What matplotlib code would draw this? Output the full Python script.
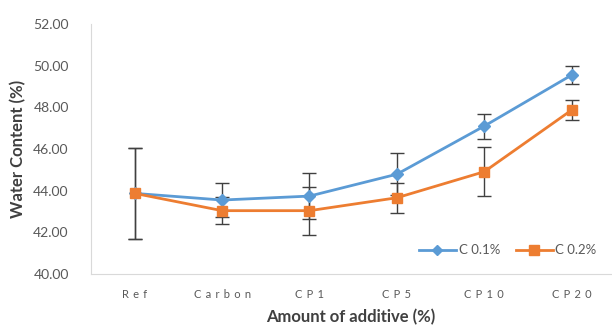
import matplotlib.pyplot as plt
from matplotlib.lines import Line2D

categories = ["Ref", "Carbon", "CP1", "CP5", "CP10", "CP20"]
c01 = [43.87, 43.55, 43.74, 44.79, 47.10, 49.55]
c01_err = [2.2, 0.83, 1.1, 1.0, 0.6, 0.45]
c02 = [43.87, 43.04, 43.04, 43.66, 44.91, 47.87]
c02_err = [2.2, 0.65, 1.15, 0.73, 1.18, 0.5]

plt.rcParams['font.family'] = ['Lato', 'DejaVu Sans']

blue = '#5B9BD5'
orange = '#ED7D31'

fig = plt.figure(figsize=(6.12, 3.29), dpi=100)
ax = fig.add_axes([91/612, 55/329, 520/612, 250/329])

x = list(range(len(categories)))
ax.errorbar(x, c01, yerr=c01_err, color=blue, lw=2, marker='D', ms=6,
            ecolor='#404040', elinewidth=1, capsize=5, capthick=1, zorder=3)
ax.errorbar(x, c02, yerr=c02_err, color=orange, lw=2, marker='s', ms=7,
            ecolor='#404040', elinewidth=1, capsize=5, capthick=1, zorder=3)

ax.set_ylim(40, 52)
ax.set_yticks(range(40, 53, 2))
ax.set_yticklabels([f"{v:.2f}" for v in range(40, 53, 2)])
ax.set_xlim(-0.5, 5.45)
ax.set_xticks(x)
# the original uses wide letter spacing on the category labels
ax.set_xticklabels([" \u2009".join(c) for c in categories])

for s in ['top', 'right']:
    ax.spines[s].set_visible(False)
for s in ['left', 'bottom']:
    ax.spines[s].set_color('#D9D9D9')
ax.tick_params(axis='y', length=0, pad=16, labelsize=10, labelcolor='#595959')
ax.tick_params(axis='x', length=0, pad=11, labelsize=8, labelcolor='#595959')

ax.set_ylabel('Water Content (%)', fontsize=12, fontweight='bold', color='#404040', labelpad=5)
ax.set_xlabel('Amount of additive (%)', fontsize=12, fontweight='bold', color='#404040', labelpad=6)

handles = [Line2D([], [], color=blue, lw=2, marker='D', ms=5),
           Line2D([], [], color=orange, lw=2, marker='s', ms=7)]
ax.legend(handles, ['C 0.1%', 'C 0.2%'], loc='center right', bbox_to_anchor=(0.985, 0.095),
          ncol=2, frameon=False, fontsize=9.5, labelcolor='#595959', handlelength=2.8,
          handletextpad=0.2, columnspacing=1.2, borderpad=0)

fig.savefig('out.png', dpi=100)
